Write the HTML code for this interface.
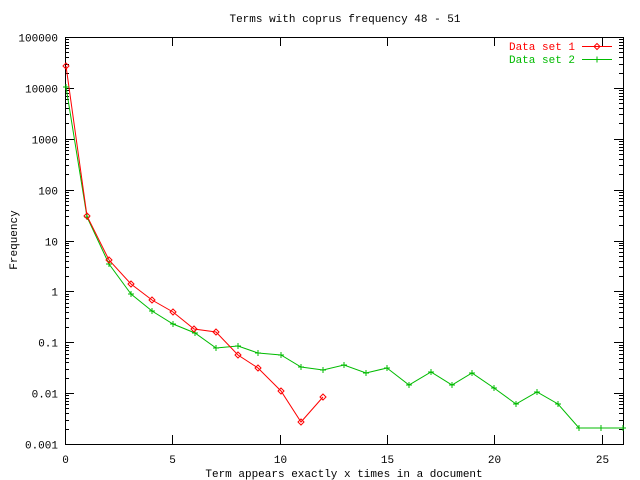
<!DOCTYPE html>
<html><head><style>body{margin:0;background:#fff}svg{display:block}text{font-family:"Liberation Mono","DejaVu Sans Mono",monospace;font-size:11px}</style></head>
<body>
<svg id="s" width="640" height="480" xmlns="http://www.w3.org/2000/svg">
<rect width="640" height="480" fill="#fff"/>
<g id="ax" stroke="#000" stroke-width="1" fill="none" shape-rendering="crispEdges"></g>
<g id="lb" fill="#000"></g>
<text x="345" y="22" text-anchor="middle">Terms with coprus frequency 48 - 51</text>
<text x="344" y="477" text-anchor="middle">Term appears exactly x times in a document</text>
<text transform="translate(17,240) rotate(-90)" text-anchor="middle">Frequency</text>
<text x="575" y="50" text-anchor="end" fill="#f00">Data set 1</text>
<text x="575" y="63" text-anchor="end" fill="#0b0">Data set 2</text>
<line x1="582" y1="46.5" x2="612" y2="46.5" stroke="#f00"/>
<line x1="582" y1="59.5" x2="612" y2="59.5" stroke="#0b0"/>
<polyline id="g" fill="none" stroke="#0b0" stroke-width="1"/>
<polyline id="r" fill="none" stroke="#f00" stroke-width="1"/>
<g id="m"></g>
</svg>
<script>
var ns="http://www.w3.org/2000/svg",ax=document.getElementById('ax'),lb=document.getElementById('lb'),m=document.getElementById('m');
function el(p,t,a,tx){var e=document.createElementNS(ns,t);for(var k in a)e.setAttribute(k,a[k]);if(tx)e.textContent=tx;p.appendChild(e);return e;}
var L=65,R=623,T=37,B=444,dec=(B-T)/8;
el(ax,'rect',{x:L+.5,y:T+.5,width:R-L,height:B-T});
var labs=['100000','10000','1000','100','10','1','0.1','0.01','0.001'];
for(var i=0;i<=8;i++){var y=Math.round(T+i*dec)+.5;
el(ax,'line',{x1:L,y1:y,x2:L+9,y2:y});el(ax,'line',{x1:R-9,y1:y,x2:R,y2:y});
el(lb,'text',{x:58,y:y+4,'text-anchor':'end'},labs[i]);
if(i<8)for(var k=2;k<10;k++){var yy=Math.round(T+(i+1)*dec-Math.log10(k)*dec)+.5;
el(ax,'line',{x1:L,y1:yy,x2:L+4,y2:yy});el(ax,'line',{x1:R-4,y1:yy,x2:R,y2:yy});}}
for(var v=0;v<=25;v+=5){var x=Math.round(L+v*(R-L)/26)+.5;
el(ax,'line',{x1:x,y1:B,x2:x,y2:B-9});el(ax,'line',{x1:x,y1:T,x2:x,y2:T+9});
el(lb,'text',{x:x,y:B+19,'text-anchor':'middle'},String(v));}
var red=[[66,66],[87,216],[109,260],[131,284],[152,300],[173,312],[194,329],[216,332],[238,355],[258,368],[281,391],[301,422],[323,397]];
var grn=[[66,87],[87,217],[109,264],[131,294],[152,311],[173,324],[195,333],[216,348],[238,346],[258,353],[281,355],[301,367],[323,370],[344,365],[366,373],[387,368],[409,385],[431,372],[452,385],[472,373],[494,388],[516,404],[537,392],[558,404],[579,428],[601,428],[623,428]];
document.getElementById('r').setAttribute('points',red.map(p=>p.join(',')).join(' '));
document.getElementById('g').setAttribute('points',grn.map(p=>p.join(',')).join(' '));
grn.concat([[597,59.5]]).forEach(p=>{el(m,'path',{d:'M'+(p[0]-3)+','+p[1]+'h6M'+p[0]+','+(p[1]-3)+'v6',stroke:'#0b0'});});
red.concat([[597,46.5]]).forEach(p=>{el(m,'path',{d:'M'+p[0]+','+(p[1]-3)+'l3,3l-3,3l-3,-3z',stroke:'#f00',fill:'none'});});
</script>
</body></html>
